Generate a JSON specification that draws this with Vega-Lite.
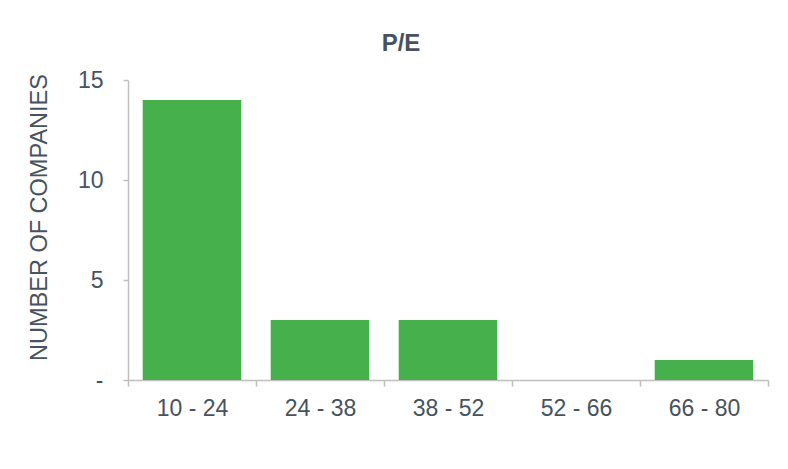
{
  "$schema": "https://vega.github.io/schema/vega-lite/v6.json",
  "width": 640,
  "height": 300,
  "autosize": {"type": "none"},
  "padding": {"left": 128, "top": 80, "right": 20, "bottom": 89},
  "background": "white",
  "title": {
    "text": "P/E",
    "anchor": "middle",
    "font": "Liberation Sans",
    "fontSize": 24,
    "fontWeight": "bold",
    "color": "#46535f",
    "baseline": "alphabetic",
    "offset": 26,
    "dx": -47,
    "dy": 32
  },
  "data": {
    "values": [
      {"range": "10 - 24", "count": 14},
      {"range": "24 - 38", "count": 3},
      {"range": "38 - 52", "count": 3},
      {"range": "52 - 66", "count": 0},
      {"range": "66 - 80", "count": 1}
    ]
  },
  "mark": {"type": "bar", "color": "#45b04c", "width": {"band": 0.77}},
  "encoding": {
    "x": {
      "field": "range",
      "type": "nominal",
      "sort": null,
      "scale": {"paddingInner": 0, "paddingOuter": 0},
      "axis": {
        "title": null,
        "labelAngle": 0,
        "labelFont": "Liberation Sans",
        "labelFontSize": 23,
        "labelColor": "#46535f",
        "labelPadding": 11,
        "tickBand": "extent",
        "tickSize": 6,
        "tickColor": "#bfbfbf",
        "domainColor": "#bfbfbf",
        "domainWidth": 1.5,
        "tickWidth": 1.5
      }
    },
    "y": {
      "field": "count",
      "type": "quantitative",
      "scale": {"domain": [0, 15], "nice": false},
      "axis": {
        "title": "NUMBER OF COMPANIES",
        "titleFont": "Liberation Sans",
        "titleFontSize": 23.5,
        "titleFontWeight": "normal",
        "titleColor": "#46535f",
        "titlePadding": 26,
        "titleY": 137,
        "values": [0, 5, 10, 15],
        "labelExpr": "datum.value == 0 ? '-\u00a0\u00a0' : datum.label",
        "labelFont": "Liberation Sans",
        "labelFontSize": 23,
        "labelColor": "#46535f",
        "labelPadding": 20,
        "grid": false,
        "tickSize": 5,
        "tickColor": "#bfbfbf",
        "domainColor": "#bfbfbf",
        "domainWidth": 1.5,
        "tickWidth": 1.5
      }
    }
  },
  "config": {"view": {"stroke": null}}
}
